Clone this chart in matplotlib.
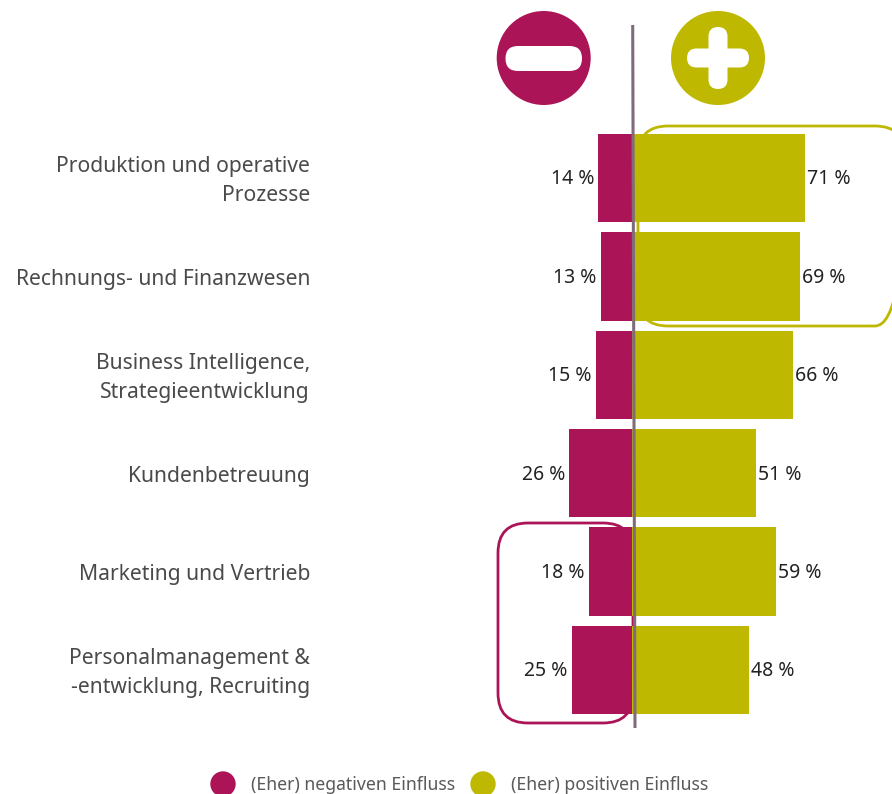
#!/usr/bin/env python3
"""Diverging bars: influence on business areas, negative vs positive."""

import matplotlib
matplotlib.use("Agg")
import matplotlib.pyplot as plt
from matplotlib.patches import Circle, FancyBboxPatch
from matplotlib.transforms import Affine2D, ScaledTranslation, blended_transform_factory

W, H = 892, 794
MAGENTA = "#ab1558"
OLIVE = "#bfb800"
LINE = "#7f6b7a"
LABEL_GREY = "#4a4a4a"
FONT = "Noto Sans"

categories = [
    "Produktion und operative\nProzesse",
    "Rechnungs- und Finanzwesen",
    "Business Intelligence,\nStrategieentwicklung",
    "Kundenbetreuung",
    "Marketing und Vertrieb",
    "Personalmanagement &\n-entwicklung, Recruiting",
]
negative = [14, 13, 15, 26, 18, 25]
positive = [71, 69, 66, 51, 59, 48]
legend_labels = ["(Eher) negativen Einfluss", "(Eher) positiven Einfluss"]

# one percent and one row in pixels, plus where the zero line / first row sit
PX_PER_PCT = 2.43
PX_PER_ROW = 98.4
X0 = 632.4
Y0 = 178.0


def rounded(ax, px, x0, y0, x1, y1, radius, **kw):
    ax.add_patch(FancyBboxPatch((x0, y0), x1 - x0, y1 - y0,
                                boxstyle=f"round,pad=0,rounding_size={radius}",
                                transform=px, clip_on=False, **kw))


def main() -> None:
    fig = plt.figure(figsize=(W / 100, H / 100), dpi=100)
    ax = fig.add_axes([0, 0, 1, 1])
    ax.set_xlim(-X0 / PX_PER_PCT, (W - X0) / PX_PER_PCT)
    ax.set_ylim((H - Y0) / PX_PER_ROW, -Y0 / PX_PER_ROW)
    ax.axis("off")

    # top-left pixel coordinates for the decorations around the chart
    px = Affine2D().scale(1, -1).translate(0, H)

    rounded(ax, px, 638, 126, 905, 326, 30, fill=False, ec=OLIVE, lw=2.0, zorder=1)
    rounded(ax, px, 498, 523, 633, 723, 30, fill=False, ec=MAGENTA, lw=2.0, zorder=1)

    rows = list(range(len(categories)))
    ax.barh(rows, [-v for v in negative], height=0.9, color=MAGENTA, zorder=2)
    ax.barh(rows, positive, height=0.9, color=OLIVE, zorder=2)

    for y, n, p in zip(rows, negative, positive):
        ax.annotate(f"{n} %", (-n, y), xytext=(-3, -1), textcoords="offset points",
                    ha="right", va="center", fontsize=14, color="#222222", family=FONT, zorder=4)
        ax.annotate(f"{p} %", (p, y), xytext=(1.5, -1), textcoords="offset points",
                    ha="left", va="center", fontsize=14, color="#222222", family=FONT, zorder=4)

    # category labels sit about 3 px below the row centre
    label_tr = blended_transform_factory(px, ax.transData) + ScaledTranslation(0, -3 / 100, fig.dpi_scale_trans)
    for y, name in zip(rows, categories):
        ax.text(310, y, name, transform=label_tr, ha="right", va="center", ma="right",
                fontsize=15.2, linespacing=1.5, color=LABEL_GREY, family=FONT)

    # axis line leans slightly in the source
    ax.plot([632.7, 635], [25, 728], transform=px, color=LINE, lw=2.2, zorder=3,
            solid_capstyle="butt", clip_on=False)

    # minus / plus badges
    ax.add_patch(Circle((543.7, 58), 47, transform=px, fc=MAGENTA, ec="none", zorder=2))
    rounded(ax, px, 505.5, 46, 582, 71, 12.5, fc="white", ec="none", zorder=3)
    ax.add_patch(Circle((718, 58), 47, transform=px, fc=OLIVE, ec="none", zorder=2))
    rounded(ax, px, 687, 48.5, 749, 67.5, 9.5, fc="white", ec="none", zorder=3)
    rounded(ax, px, 708.5, 27, 727.5, 89, 9.5, fc="white", ec="none", zorder=3)

    # legend
    ax.add_patch(Circle((223, 784), 12.7, transform=px, fc=MAGENTA, ec="none", clip_on=False))
    ax.add_patch(Circle((483, 784), 12.7, transform=px, fc=OLIVE, ec="none", clip_on=False))
    for x, text in zip([251, 511], legend_labels):
        ax.text(x, 785, text, transform=px, ha="left", va="center", fontsize=12.7,
                color="#5a5a5a", family=FONT)

    fig.savefig("out.png", dpi=100, facecolor="white")


if __name__ == "__main__":
    main()
